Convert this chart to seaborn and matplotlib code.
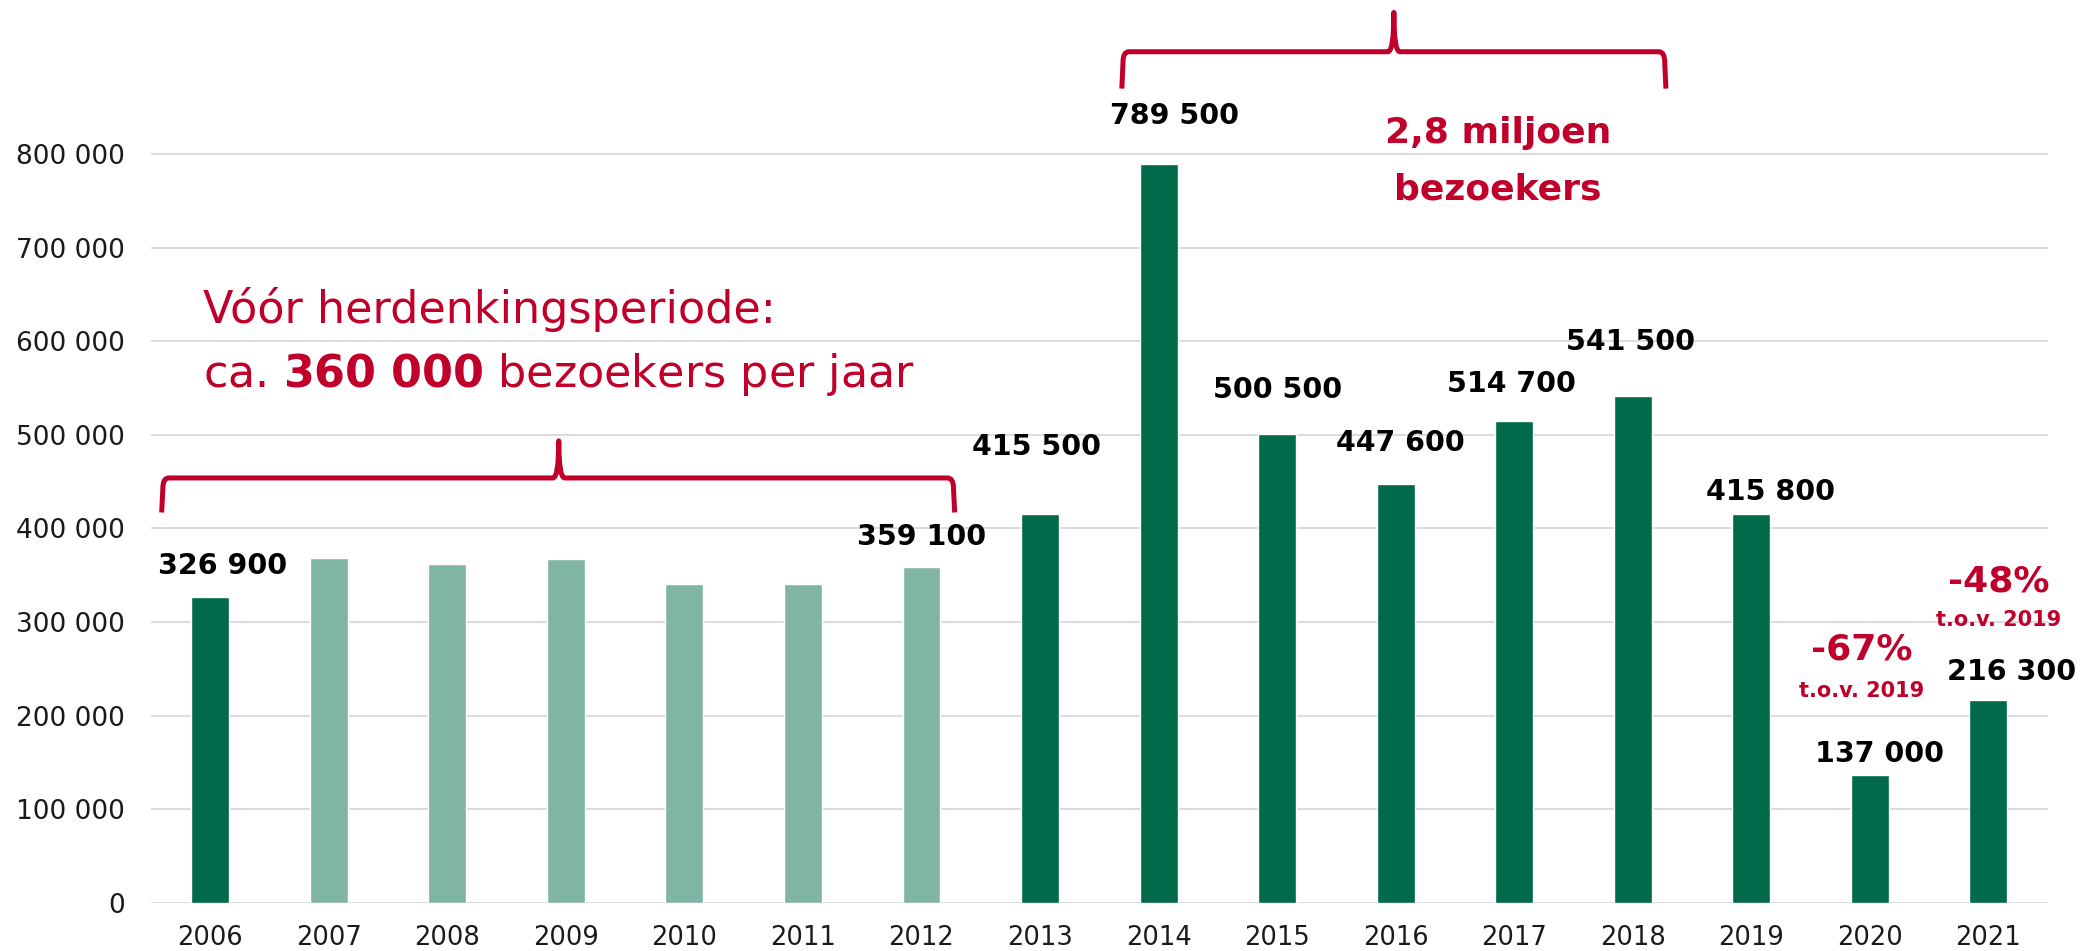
import numpy as np
import pandas as pd
import seaborn as sns
import matplotlib.pyplot as plt
from matplotlib.path import Path
from matplotlib.patches import PathPatch
from matplotlib.ticker import FuncFormatter

# visitors per year
years = ["2006", "2007", "2008", "2009", "2010", "2011", "2012", "2013",
         "2014", "2015", "2016", "2017", "2018", "2019", "2020", "2021"]
visitors = [326900, 368500, 362200, 367500, 340800, 340800, 359100, 415500,
            789500, 500500, 447600, 514700, 541500, 415800, 137000, 216300]
period = ["start", "before", "before", "before", "before", "before", "before", "after",
          "after", "after", "after", "after", "after", "after", "after", "after"]

# which bars get a value label, and where the label sits (pixels from bar top)
labelled = ["2006", "2012", "2013", "2014", "2015", "2016", "2017", "2018", "2019", "2020", "2021"]
label_dx = [12, 0, -4, 16, 0, 5, -3, -2, 19, 10, 23]
label_dy = [23, 22, 59, 40, 36, 33, 29, 46, 14, 13, 20]

# change vs 2019
pct_years = ["2020", "2021"]
pct_text = ["-67%", "-48%"]
pct_dx = [-8, 10]
pct_dy = [115, 109]
sub_dy = [78, 74]

RED = "#C0002A"
DARK = "#006A4A"
LIGHT = "#80B4A4"

sns.set_style("white")
plt.rcParams["font.family"] = ["DejaVu Sans"]

W, H = 2082, 951
fig = plt.figure(figsize=(W / 100, H / 100), dpi=100)
ax = fig.add_axes([151 / W, (H - 902.7) / H, (2047.6 - 151) / W, 902.7 / H])

df = pd.DataFrame({"year": years, "visitors": visitors, "period": period})
colors = [LIGHT if p == "before" else DARK for p in period]
sns.barplot(data=df, x="year", y="visitors", hue="year", palette=colors,
            width=0.32, legend=False, ax=ax, saturation=1)

ax.set_xlim(-0.5, 15.5)
ax.set_ylim(0, 964900)
ax.set_yticks(np.arange(0, 800001, 100000))
ax.yaxis.set_major_formatter(FuncFormatter(lambda v, p: f"{v:,.0f}".replace(",", " ")))
ax.set_xlabel("")
ax.set_ylabel("")
ax.yaxis.grid(True, color="#D9D9D9", lw=1.3)
ax.set_axisbelow(True)
for s in ax.spines.values():
    s.set_visible(False)
ax.tick_params(axis="y", length=0, pad=19, labelsize=19, labelcolor="#1a1a1a")
ax.tick_params(axis="x", length=0, pad=16, labelsize=18.5, labelcolor="#1a1a1a")

# value labels
for yr, dx, dy in zip(labelled, label_dx, label_dy):
    i = years.index(yr)
    v = visitors[i]
    ax.annotate(f"{v:,}".replace(",", " "), xy=(i, v), xytext=(dx, dy),
                textcoords="offset pixels", ha="center", va="baseline",
                fontsize=20.5, fontweight="bold", color="black", annotation_clip=False)

# percentage annotations
for yr, txt, dx, dy, sdy in zip(pct_years, pct_text, pct_dx, pct_dy, sub_dy):
    i = years.index(yr)
    v = visitors[i]
    ax.annotate(txt, xy=(i, v), xytext=(dx, dy), textcoords="offset pixels",
                ha="center", va="baseline", fontsize=26, fontweight="bold", color=RED,
                annotation_clip=False)
    ax.annotate("t.o.v. 2019", xy=(i, v), xytext=(dx, sdy), textcoords="offset pixels",
                ha="center", va="baseline", fontsize=15, fontweight="bold", color=RED,
                annotation_clip=False)


def brace(x0, x1, xm, ybase, yline, ytip, rx=0.05, ry=11000, tw=0.05):
    verts = [(x0 - 0.01, ybase), (x0, yline - ry), (x0, yline), (x0 + rx, yline),
             (xm - tw, yline), (xm, yline), (xm, ytip), (xm, yline), (xm + tw, yline),
             (x1 - rx, yline), (x1, yline), (x1, yline - ry), (x1 + 0.01, ybase)]
    codes = [Path.MOVETO, Path.LINETO, Path.CURVE3, Path.CURVE3,
             Path.LINETO, Path.CURVE3, Path.CURVE3, Path.CURVE3, Path.CURVE3,
             Path.LINETO, Path.CURVE3, Path.CURVE3, Path.LINETO]
    ax.add_patch(PathPatch(Path(verts, codes), fill=False, edgecolor=RED, lw=3.6,
                           capstyle="butt", joinstyle="round", clip_on=False))


brace(-0.40, 6.27, 2.94, 417100, 454000, 493600)
brace(7.70, 12.27, 9.985, 870200, 909600, 951600)

# red texts
fig.text(203 / W, 1 - 323 / H, "Vóór herdenkingsperiode:", fontsize=32, color=RED,
         ha="left", va="baseline")
fig.text(203 / W, 1 - 387.5 / H, r"ca. $\mathbf{360\ 000}$ bezoekers per jaar", fontsize=32,
         color=RED, ha="left", va="baseline")
fig.text(1498 / W, 1 - 143 / H, "2,8 miljoen", fontsize=26, fontweight="bold", color=RED,
         ha="center", va="baseline")
fig.text(1498 / W, 1 - 200 / H, "bezoekers", fontsize=26, fontweight="bold", color=RED,
         ha="center", va="baseline")

fig.savefig("out.png", dpi=100)
